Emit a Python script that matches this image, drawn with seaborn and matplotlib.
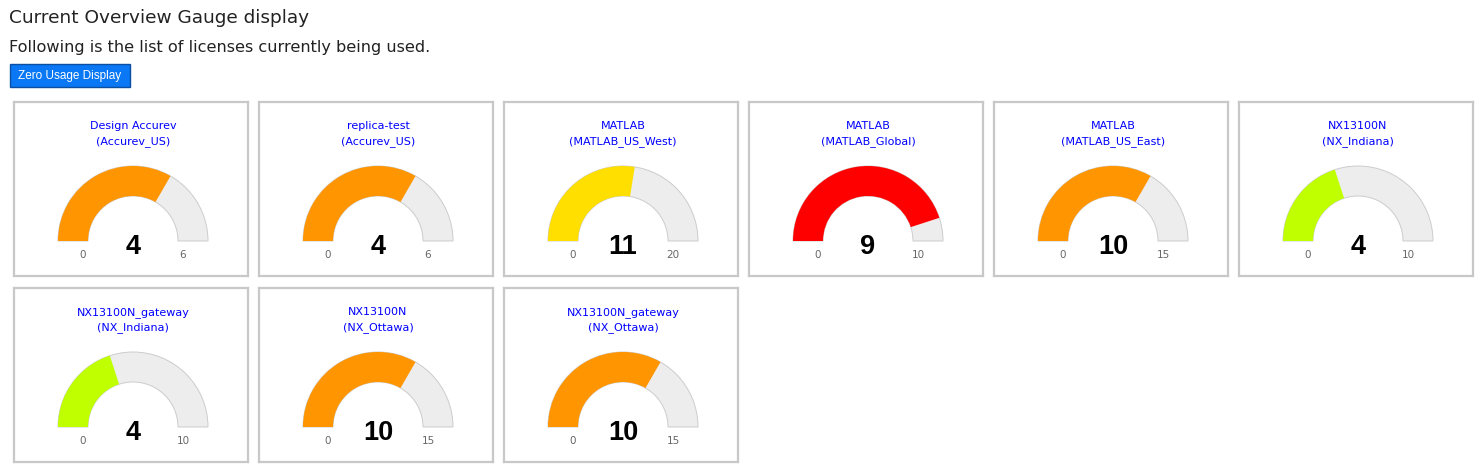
import matplotlib
matplotlib.use("Agg")
import matplotlib.pyplot as plt
from matplotlib.patches import Wedge, Rectangle
import seaborn as sns

# License gauge data
products = ["Design Accurev", "replica-test", "MATLAB", "MATLAB", "MATLAB",
            "NX13100N", "NX13100N_gateway", "NX13100N", "NX13100N_gateway"]
servers = ["Accurev_US", "Accurev_US", "MATLAB_US_West", "MATLAB_Global",
           "MATLAB_US_East", "NX_Indiana", "NX_Indiana", "NX_Ottawa", "NX_Ottawa"]
used = [4, 4, 11, 9, 10, 4, 4, 10, 10]
totals = [6, 6, 20, 10, 15, 10, 10, 15, 15]

# colour stops on the usage ratio
stops = [(0.5, "#bfff00"), (0.6, "#ffdf00"), (0.85, "#ff9500"), (1.01, "#ff0000")]

sns.set_theme(style="white")
plt.rcParams["font.family"] = ["DejaVu Sans"]

W, H = 1484, 474
fig = plt.figure(figsize=(W / 100, H / 100), dpi=100)

# page background axes in pixel units (y down)
bg = fig.add_axes([0, 0, 1, 1])
bg.set_xlim(0, W)
bg.set_ylim(H, 0)
bg.axis("off")
bg.text(9, 23, "Current Overview Gauge display", fontsize=13.3,
        color="#222222", va="baseline", ha="left")
bg.text(9, 52, "Following is the list of licenses currently being used.",
        fontsize=11.6, color="#222222", va="baseline", ha="left")
bg.add_patch(Rectangle((10, 64), 120, 23, facecolor="#0a78f5",
                       edgecolor="#0a4fa0", linewidth=1))
bg.text(70, 79, "Zero Usage Display", fontsize=8.5, color="white",
        family="Liberation Sans", va="baseline", ha="center")


def color_for(ratio):
    for lim, col in stops:
        if ratio < lim:
            return col
    return stops[-1][1]


def draw_gauge(ax, product, server, value, top):
    ax.set_xlim(-119, 115)
    ax.set_ylim(-35, 139)
    ax.set_xticks([])
    ax.set_yticks([])
    for sp in ax.spines.values():
        sp.set_color("#c8c8c8")
        sp.set_linewidth(1.6)
    ax.add_patch(Wedge((0, 0), 75, 0, 180, width=30, facecolor="#ededed",
                       edgecolor="#cccccc", linewidth=0.7))
    ratio = value / top
    ax.add_patch(Wedge((0, 0), 75, 180 - 180 * ratio, 180, width=30,
                       facecolor=color_for(ratio), linewidth=0))
    ax.text(0, 112, product, ha="center", va="baseline", fontsize=8,
            color="#0000ff")
    ax.text(0, 97, f"({server})", ha="center", va="baseline", fontsize=8,
            color="#0000ff")
    ax.text(0, -13, str(value), ha="center", va="baseline", fontsize=19.5,
            family="Liberation Sans", weight="bold", color="black")
    ax.text(-50, -16.5, "0", ha="center", va="baseline", fontsize=7.5,
            color="#666666")
    ax.text(50, -16.5, str(top), ha="center", va="baseline", fontsize=7.5,
            color="#666666")


for i, (prod, srv, val, tot) in enumerate(zip(products, servers, used, totals)):
    row, col = divmod(i, 6)
    left = 14 + 245 * col
    top_px = 102 + 186 * row
    rect = [left / W, 1 - (top_px + 174) / H, 234 / W, 174 / H]
    ax = fig.add_axes(rect)
    draw_gauge(ax, prod, srv, val, tot)

fig.savefig("out.png", dpi=100)
